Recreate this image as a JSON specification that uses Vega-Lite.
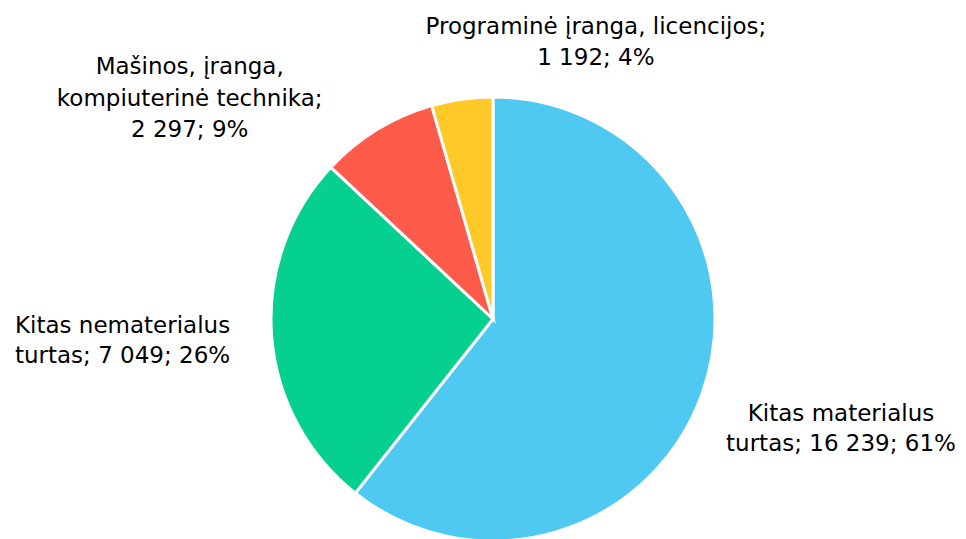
{
  "$schema": "https://vega.github.io/schema/vega-lite/v6.json",
  "width": 946,
  "height": 444,
  "autosize": {"type": "none"},
  "padding": {"left": 20, "top": 97, "right": 0, "bottom": 0},
  "background": "white",
  "view": {"stroke": null},
  "config": {"text": {"font": "DejaVu Sans", "fontSize": 23, "lineHeight": 30, "color": "#000000"}},
  "data": {
    "values": [
      {"category": "Kitas materialus turtas", "value": 16239, "label": "Kitas materialus\nturtas; 16 239; 61%", "ord": 1},
      {"category": "Kitas nematerialus turtas", "value": 7049, "label": "Kitas nematerialus\nturtas; 7 049; 26%", "ord": 2},
      {"category": "Mašinos, įranga, kompiuterinė technika", "value": 2297, "label": "Mašinos, įranga,\nkompiuterinė technika;\n2 297; 9%", "ord": 3},
      {"category": "Programinė įranga, licencijos", "value": 1192, "label": "Programinė įranga, licencijos;\n1 192; 4%", "ord": 4}
    ]
  },
  "encoding": {
    "theta": {"field": "value", "type": "quantitative", "stack": true},
    "order": {"field": "ord", "type": "quantitative"}
  },
  "layer": [
    {
      "mark": {"type": "arc", "stroke": "white", "strokeWidth": 3},
      "encoding": {
        "color": {
          "field": "category",
          "type": "nominal",
          "scale": {
            "domain": ["Kitas materialus turtas", "Kitas nematerialus turtas", "Mašinos, įranga, kompiuterinė technika", "Programinė įranga, licencijos"],
            "range": ["#4FC9F1", "#06D08F", "#FF5B4B", "#FFC928"]
          },
          "legend": null
        }
      }
    },
    {
      "mark": {"type": "text", "radius": 370, "dx": -1.5, "dy": -26, "align": "center", "baseline": "middle", "lineBreak": "\n"},
      "encoding": {
        "text": {"condition": {"test": "datum.ord == 1", "field": "label"}, "value": ""}
      }
    },
    {
      "mark": {"type": "text", "radius": 370, "dx": -1.5, "dy": -21, "align": "center", "baseline": "middle", "lineBreak": "\n"},
      "encoding": {
        "text": {"condition": {"test": "datum.ord == 2", "field": "label"}, "value": ""}
      }
    },
    {
      "mark": {"type": "text", "radius": 355, "dx": -118, "dy": 51, "lineHeight": 31.5, "align": "center", "baseline": "middle", "lineBreak": "\n"},
      "encoding": {
        "text": {"condition": {"test": "datum.ord == 3", "field": "label"}, "value": ""}
      }
    },
    {
      "mark": {"type": "text", "radius": 295, "dx": 144, "dy": 0, "lineHeight": 31.5, "align": "center", "baseline": "middle", "lineBreak": "\n"},
      "encoding": {
        "text": {"condition": {"test": "datum.ord == 4", "field": "label"}, "value": ""}
      }
    }
  ]
}
